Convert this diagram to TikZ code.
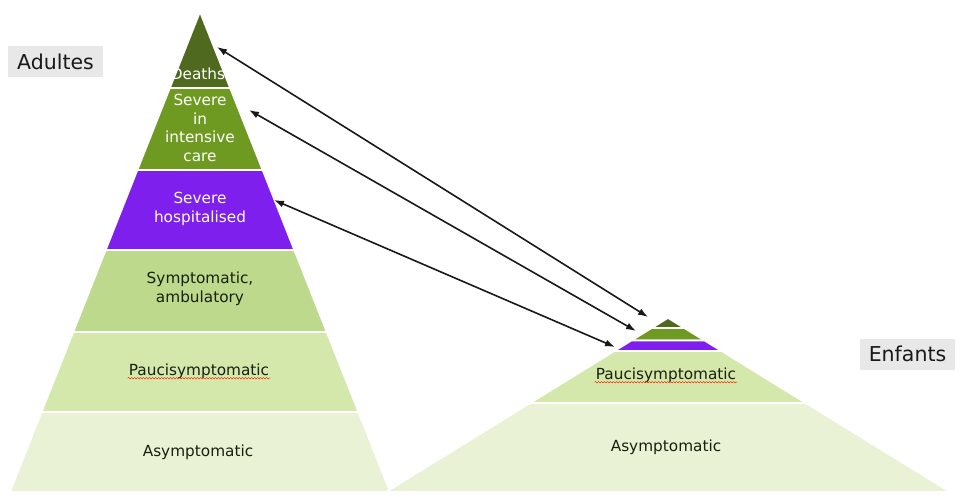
\documentclass[tikz,border=0pt]{standalone}
\usepackage{fontspec}
\setmainfont{DejaVu Sans}
\usetikzlibrary{arrows.meta,decorations.pathmorphing}
\definecolor{dkg}{HTML}{4F6A1E}
\definecolor{olv}{HTML}{6F9A22}
\definecolor{pur}{HTML}{7F1FEE}
\definecolor{sym}{HTML}{BCD98C}
\definecolor{pau}{HTML}{D5E8AC}
\definecolor{asy}{HTML}{E9F2D4}
\definecolor{txt}{HTML}{18200E}
\definecolor{tagg}{HTML}{E8E8E8}
% one band of a pyramid: apex x, apex y, slope, top y, bottom y, colour
\newcommand\pband[6]{\fill[#6,band] ({#1-(#4-#2)*#3},#4) -- ({#1+(#4-#2)*#3},#4)
  -- ({#1+(#5-#2)*#3},#5) -- ({#1-(#5-#2)*#3},#5) -- cycle;}
\tikzset{band/.style={draw=white,line width=1.6pt},
 lbl/.style={align=center,font=\fontsize{15.3}{18.7}\selectfont,text=txt,inner sep=1pt},
 wl/.style={lbl,text=white},
 tag/.style={fill=tagg,font=\fontsize{20.5}{24}\selectfont,text=black!90,inner sep=0pt,
   minimum width=95,minimum height=31},
 flow/.style={{Latex[length=10,width=7]}-{Latex[length=10,width=7]},line width=1.6pt,black!90},
 wave/.style={red!75!orange,line width=.5pt,decorate,decoration={snake,amplitude=.7,segment length=3}}}
\begin{document}
\begin{tikzpicture}[x=1pt,y=-1pt]
\useasboundingbox (0,0) rectangle (961,497);
\fill[white] (0,0) rectangle (961,497);
% adults
\pband{200}{12}{.396}{12}{88}{dkg}
\pband{200}{12}{.396}{88}{170}{olv}
\pband{200}{12}{.396}{170}{250}{pur}
\pband{200}{12}{.396}{250}{332}{sym}
\pband{200}{12}{.396}{332}{412}{pau}
\pband{200}{12}{.396}{412}{492}{asy}
\begin{scope}
\clip (200,12) -- (230,88) -- (170,88) -- cycle;
\node[wl](ad) at (198,74){Deaths};
\end{scope}
\node[wl](ai) at (200,128){Severe\\in\\intensive\\care};
\node[wl](ah) at (200,209){Severe\\hospitalised};
\node[lbl](as) at (200,289){Symptomatic,\\ambulatory};
\node[lbl](ap) at (199,371){Paucisymptomatic};
\node[lbl](aa) at (198,452){Asymptomatic};
\draw[wave]([yshift=-3]ap.base west)--([yshift=-3]ap.base east);
% children
\pband{668}{318}{1.62}{318}{328}{dkg}
\pband{668}{318}{1.62}{328}{340.5}{olv}
\pband{668}{318}{1.62}{340.5}{351}{pur}
\pband{668}{318}{1.62}{351}{403}{pau}
\pband{668}{318}{1.62}{403}{492}{asy}
\node[lbl](cp) at (666,375){Paucisymptomatic};
\node[lbl](ca) at (666,447){Asymptomatic};
\draw[wave]([yshift=-3]cp.base west)--([yshift=-3]cp.base east);
% tags
\node[tag](adu) at (55.5,62){Adultes};
\node[tag](enf) at (907.5,354){Enfants};
% links
\coordinate (xd) at (217,47);\coordinate (yd) at (648,317);
\coordinate (xi) at (249,110);\coordinate (yi) at (636,331);
\coordinate (xh) at (274,200);\coordinate (yh) at (615,347);
\draw[flow](xd)--(yd);
\draw[flow](xi)--(yi);
\draw[flow](xh)--(yh);
\end{tikzpicture}
\end{document}
